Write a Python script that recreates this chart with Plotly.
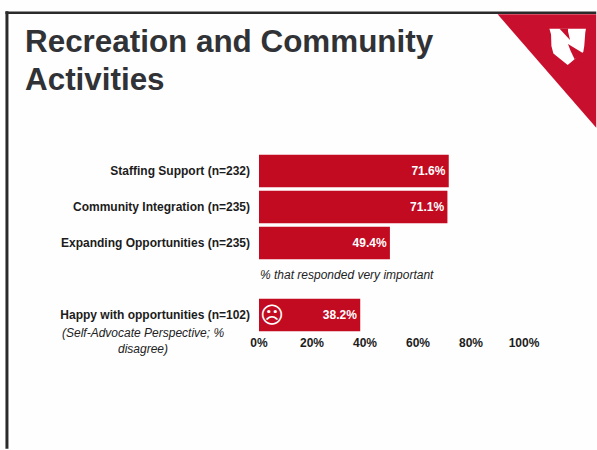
import plotly.graph_objects as go

categories = ["Staffing Support (n=232)", "Community Integration (n=235)", "Expanding Opportunities (n=235)", " ", "Happy with opportunities (n=102)"]
values = [71.6, 71.1, 49.4, None, 38.2]
value_labels = ["71.6%", "71.1%", "49.4%", "", "38.2%"]
x_ticks = [0, 20, 40, 60, 80, 100]
x_tick_labels = ["0%", "20%", "40%", "60%", "80%", "100%"]
title_lines = ["Recreation and Community", "Activities"]
note_text = "% that responded very important"
sub_label = "(Self-Advocate Perspective; %<br>disagree)"

W, H = 597, 450
L, R, T, B = 258.5, 524.5, 152.5, 333.5
FONT = "Liberation Sans"
RED = "#c20a20"


def px(x):
    return (x - L) / (R - L)


def py(y):
    return (B - y) / (B - T)


def path(points):
    return "M " + " L ".join(f"{px(x):.4f},{py(y):.4f}" for x, y in points) + " Z"


def logo(points):
    return path([(530 + a / 3, 15 + b / 3) for a, b in points])


bold_categories = [f"<b>{c}</b>" for c in categories]

fig = go.Figure(go.Bar(
    y=bold_categories, x=values, orientation="h", width=0.9,
    marker=dict(color=RED, line=dict(width=0)),
    text=[f"<b>{t}</b>" if t else "" for t in value_labels],
    textposition="inside", insidetextanchor="end", textangle=0,
    textfont=dict(family=FONT, size=12, color="white"),
    hoverinfo="skip",
))

shapes = [
    dict(type="path", xref="paper", yref="paper", line=dict(width=0), fillcolor="#c8102e", layer="below",
         path=path([(498, 13), (597, 13), (597, 127)])),
    dict(type="path", xref="paper", yref="paper", line=dict(width=0), fillcolor="white",
         path=logo([(60, 38), (170, 38), (168, 50), (165, 90), (162, 108), (115, 147), (72, 112), (66, 90), (65, 55)])),
    dict(type="path", xref="paper", yref="paper", line=dict(width=0), fillcolor="#c8102e",
         path=logo([(90, 37), (116, 37), (116, 45), (122, 72)])),
    dict(type="path", xref="paper", yref="paper", line=dict(width=0), fillcolor="#c8102e",
         path=logo([(116, 84), (163, 112), (136, 130), (124, 105)])),
    dict(type="line", xref="paper", yref="paper", x0=px(5.5), x1=px(5.5), y0=py(10), y1=py(450), line=dict(color="#2a2a2a", width=3)),
    dict(type="line", xref="paper", yref="paper", x0=px(4), x1=px(597), y0=py(11.5), y1=py(11.5), line=dict(color="#2a2a2a", width=2.5)),
]

annotations = [
    dict(text=f"<b>{title_lines[0]}</b>", x=px(21.5), y=py(40), xref="paper", yref="paper", xanchor="left", yanchor="middle",
         showarrow=False, font=dict(family=FONT, size=31.4, color="#303236")),
    dict(text=f"<b>{title_lines[1]}</b>", x=px(21.5), y=py(79), xref="paper", yref="paper", xanchor="left", yanchor="middle",
         showarrow=False, font=dict(family=FONT, size=31.4, color="#303236")),
    dict(text=f"<i>{note_text}</i>", x=px(257), y=py(275.5), xref="paper", yref="paper", xanchor="left", yanchor="middle",
         showarrow=False, font=dict(family=FONT, size=12, color="#222")),
    dict(text=f"<i>{sub_label}</i>", x=px(142), y=py(341.5), xref="paper", yref="paper", xanchor="center", yanchor="middle",
         showarrow=False, align="center", font=dict(family=FONT, size=12, color="#222")),
    dict(text="☹", x=px(272), y=py(315.5), xref="paper", yref="paper", xanchor="center", yanchor="middle",
         showarrow=False, font=dict(family="DejaVu Sans", size=23, color="white")),
]

fig.update_layout(
    width=W, height=H, autosize=False,
    margin=dict(l=L, r=W - R, t=T, b=H - B),
    paper_bgcolor="#fefefe", plot_bgcolor="rgba(0,0,0,0)",
    showlegend=False,
    xaxis=dict(range=[0, 100], tickmode="array", tickvals=x_ticks, ticktext=[f"<b>{t}</b>" for t in x_tick_labels],
               showgrid=False, zeroline=False, showline=False, ticks="",
               tickfont=dict(family=FONT, size=12, color="#1c1c1c"), ticklabelstandoff=1),
    yaxis=dict(type="category", categoryorder="array", categoryarray=bold_categories,
               range=[4.5, -0.5], tickmode="array", tickvals=bold_categories,
               showgrid=False, zeroline=False, showline=False, ticks="",
               tickfont=dict(family=FONT, size=12, color="#1c1c1c"), ticklabelstandoff=8),
    shapes=shapes, annotations=annotations,
)

fig.write_html("out.html", config=dict(displayModeBar=False),
               post_script="document.body.style.margin='0';document.body.style.overflow='hidden';")
